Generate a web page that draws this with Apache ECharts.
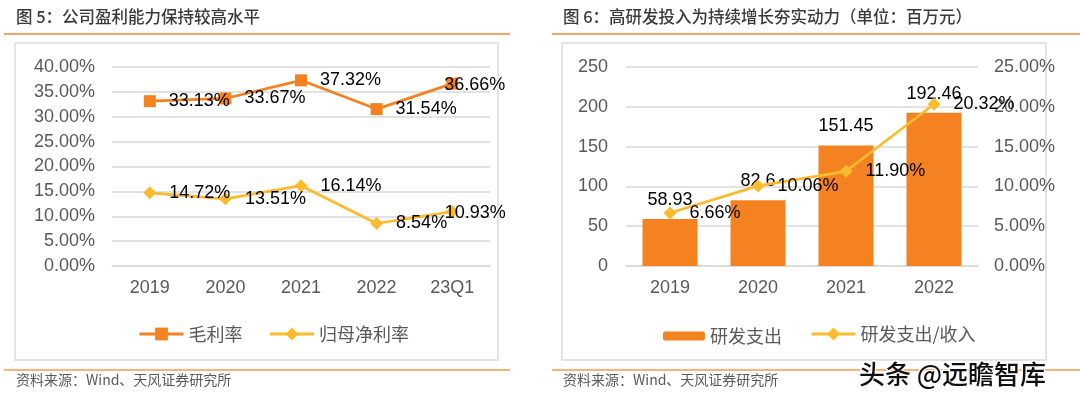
<!DOCTYPE html>
<html><head><meta charset="utf-8">
<script src="https://cdn.jsdelivr.net/npm/echarts@6/dist/echarts.min.js"></script>
<style>html,body{margin:0;padding:0;background:#fff}#c{width:1080px;height:404px}</style>
</head><body><div id="c"></div>
<script>
// Chart 5 data
const cats5 = ['2019', '2020', '2021', '2022', '23Q1'];
const grossMargin = [33.13, 33.67, 37.32, 31.54, 36.66];
const netMargin = [14.72, 13.51, 16.14, 8.54, 10.93];
// Chart 6 data
const cats6 = ['2019', '2020', '2021', '2022'];
const rdSpend = [58.93, 82.6, 151.45, 192.46];
const rdRatio = [6.66, 10.06, 11.90, 20.32];

const NUM = '"Liberation Sans", Arial, "Noto Sans CJK SC", sans-serif';
const CJK = '"Noto Sans CJK SC", "Liberation Sans", sans-serif';
const ORANGE = '#F48221';
const YELLOW = '#FBBB2D';
const AXIS_C = '#595959';
const GRID_C = '#d9d9d9';

function lineData(vals, shiftLast) {
  return vals.map((v, i) => (shiftLast && i === vals.length - 1)
    ? { value: v, label: { offset: [-27, 1] } } : v);
}

const chart = echarts.init(document.getElementById('c'), null, { renderer: 'canvas' });
const pctFmt = v => v.toFixed(2) + '%';
const lineLabel = { show: true, position: 'right', distance: 13, color: '#000', fontSize: 18, fontFamily: NUM, formatter: p => p.value.toFixed(2) + '%' };
const legendText = { fontSize: 18, color: AXIS_C, fontFamily: CJK };

chart.setOption({
  animation: false,
  backgroundColor: '#fff',
  textStyle: { fontFamily: NUM },
  graphic: [
    { type: 'text', x: 16, y: 17, style: { text: '图 5：公司盈利能力保持较高水平', font: '500 16.5px ' + CJK, fill: '#3a3a3a', verticalAlign: 'middle' } },
    { type: 'text', x: 563, y: 17, style: { text: '图 6：高研发投入为持续增长夯实动力（单位：百万元）', font: '500 16.5px ' + CJK, fill: '#3a3a3a', verticalAlign: 'middle' } },
    { type: 'line', shape: { x1: 4, y1: 34, x2: 510, y2: 34 }, style: { stroke: '#F7A565', lineWidth: 2 } },
    { type: 'line', shape: { x1: 552, y1: 34, x2: 1080, y2: 34 }, style: { stroke: '#F7A565', lineWidth: 2 } },
    { type: 'rect', z: -1, shape: { x: 15, y: 43, width: 483, height: 317 }, style: { fill: 'none', stroke: '#dcdcdc', lineWidth: 1.5 } },
    { type: 'rect', z: -1, shape: { x: 562, y: 43, width: 484, height: 317 }, style: { fill: 'none', stroke: '#dcdcdc', lineWidth: 1.5 } },
    { type: 'line', shape: { x1: 4, y1: 370, x2: 510, y2: 370 }, style: { stroke: '#F79A4C', lineWidth: 1.5 } },
    { type: 'line', shape: { x1: 552, y1: 370, x2: 1080, y2: 370 }, style: { stroke: '#F79A4C', lineWidth: 1.5 } },
    { type: 'text', x: 16, y: 380, style: { text: '资料来源：Wind、天风证券研究所', font: '14px ' + CJK, fill: '#595959', verticalAlign: 'middle' } },
    { type: 'text', x: 563, y: 380, style: { text: '资料来源：Wind、天风证券研究所', font: '14px ' + CJK, fill: '#595959', verticalAlign: 'middle' } },
    { type: 'text', x: 859, y: 374, z: 10, style: { text: '头条 @远瞻智库', font: '500 26px ' + CJK, fill: '#111', stroke: '#fff', lineWidth: 2.5, verticalAlign: 'middle' } }
  ],
  legend: [
    { left: 133, top: 320, itemWidth: 44, itemHeight: 16, itemGap: 26, data: ['毛利率', '归母净利率'],
      textStyle: legendText, lineStyle: { width: 3 } },
    { left: 658, top: 322, itemWidth: 42, itemHeight: 9, data: ['研发支出'], textStyle: legendText },
    { left: 805, top: 320, itemWidth: 44, itemHeight: 16, data: ['研发支出/收入'],
      textStyle: legendText, lineStyle: { width: 3 } }
  ],
  grid: [
    { left: 112, right: 590, top: 67, bottom: 138 },
    { left: 626, right: 102, top: 67, bottom: 138 }
  ],
  xAxis: [
    { type: 'category', gridIndex: 0, data: cats5, axisTick: { show: false },
      axisLine: { lineStyle: { color: GRID_C, width: 1.5 } },
      axisLabel: { color: AXIS_C, fontSize: 18, margin: 13 } },
    { type: 'category', gridIndex: 1, data: cats6, axisTick: { show: false },
      axisLine: { lineStyle: { color: GRID_C, width: 1.5 } },
      axisLabel: { color: AXIS_C, fontSize: 18, margin: 13 } }
  ],
  yAxis: [
    { type: 'value', gridIndex: 0, min: 0, max: 40, interval: 5,
      axisLabel: { color: AXIS_C, fontSize: 18, margin: 17, formatter: pctFmt },
      splitLine: { lineStyle: { color: GRID_C, width: 1.5 } } },
    { type: 'value', gridIndex: 1, min: 0, max: 250, interval: 50,
      axisLabel: { color: AXIS_C, fontSize: 18, margin: 18 },
      splitLine: { lineStyle: { color: GRID_C, width: 1.5 } } },
    { type: 'value', gridIndex: 1, position: 'right', min: 0, max: 25, interval: 5,
      axisLabel: { color: AXIS_C, fontSize: 18, margin: 16, formatter: pctFmt },
      splitLine: { show: false }, axisLine: { show: false }, axisTick: { show: false } }
  ],
  series: [
    { name: '毛利率', type: 'line', xAxisIndex: 0, yAxisIndex: 0, data: lineData(grossMargin, true),
      symbol: 'rect', symbolSize: 12, color: ORANGE, lineStyle: { width: 2.75, color: ORANGE },
      itemStyle: { color: ORANGE }, label: lineLabel },
    { name: '归母净利率', type: 'line', xAxisIndex: 0, yAxisIndex: 0, data: lineData(netMargin, true),
      symbol: 'diamond', symbolSize: 13, color: YELLOW, lineStyle: { width: 2.75, color: YELLOW },
      itemStyle: { color: YELLOW }, label: lineLabel },
    { name: '研发支出', type: 'bar', xAxisIndex: 1, yAxisIndex: 1, data: rdSpend, barWidth: 55,
      color: ORANGE, itemStyle: { color: ORANGE },
      label: { show: true, position: 'top', distance: 10, color: '#000', fontSize: 18, fontFamily: NUM } },
    { name: '研发支出/收入', type: 'line', xAxisIndex: 1, yAxisIndex: 2, data: rdRatio, z: 5,
      symbol: 'diamond', symbolSize: 13, color: YELLOW, lineStyle: { width: 2.75, color: YELLOW },
      itemStyle: { color: YELLOW }, label: lineLabel }
  ]
});
</script>
</body></html>
